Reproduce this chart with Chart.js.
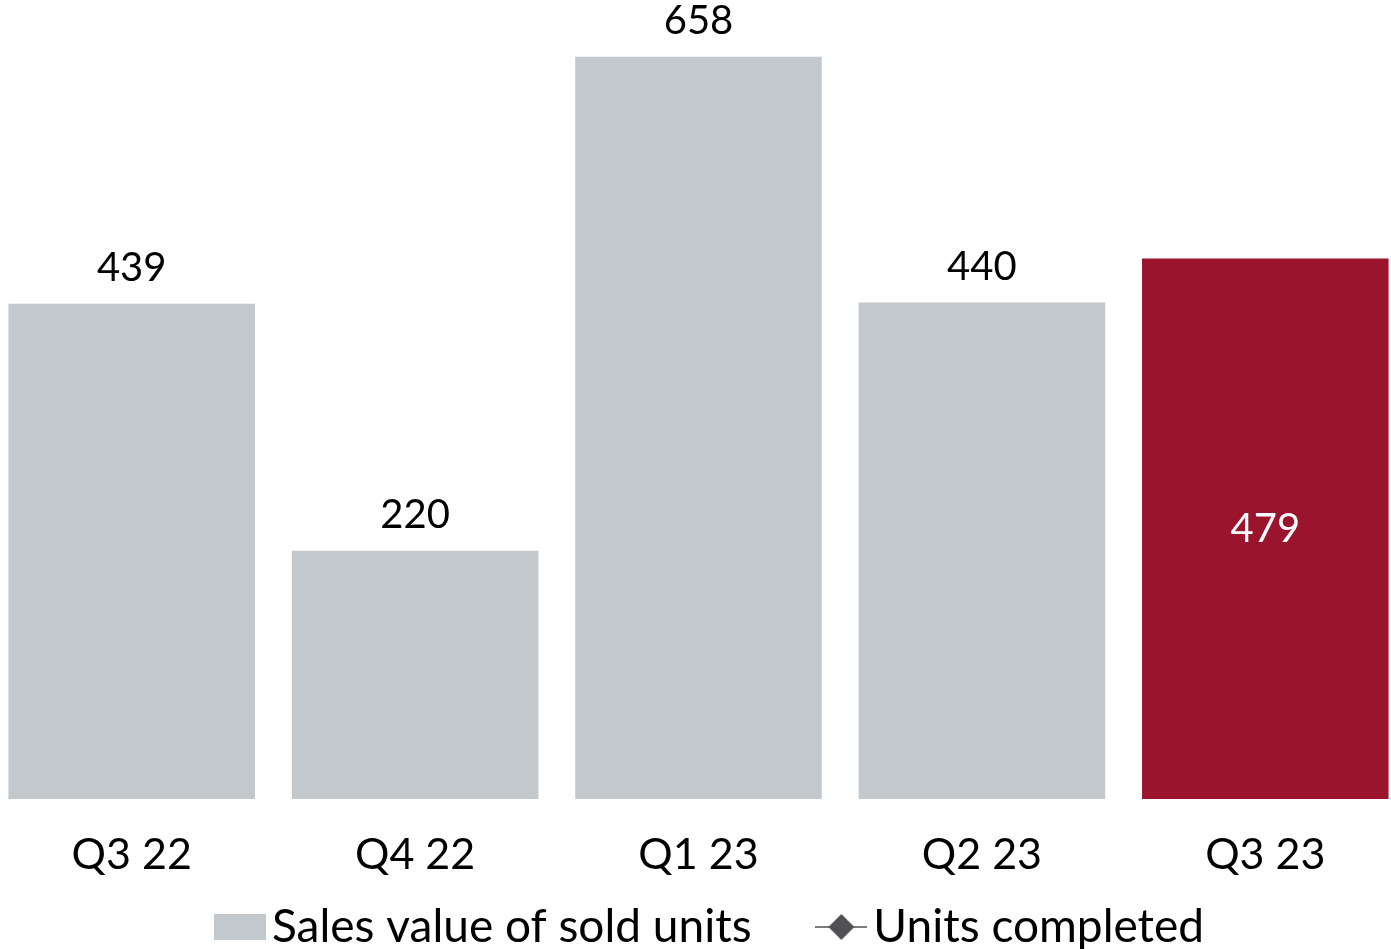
<!DOCTYPE html>
<html>
<head>
<meta charset="utf-8">
<script src="https://cdn.jsdelivr.net/npm/chart.js@4/dist/chart.umd.min.js"></script>
<style>
  html, body { margin: 0; padding: 0; background: #fff; overflow: hidden; }
  #wrap { position: absolute; left: -15px; top: 0; width: 1427px; height: 949px; }
</style>
</head>
<body>
<div id="wrap"><canvas id="chart"></canvas></div>
<script>
// Quarterly sales value (bars); units completed has no points plotted
const quarters = ['Q3 22', 'Q4 22', 'Q1 23', 'Q2 23', 'Q3 23'];
const salesValue = [439, 220, 658, 440, 479];
const unitsCompleted = [null, null, null, null, null];

const GREY = '#c3c8cc';
const RED = '#9b142d';
const FONT = 'Lato, "DejaVu Sans", sans-serif';

const barColors = salesValue.map((v, i) => i === salesValue.length - 1 ? RED : GREY);

// legend swatches as small canvases
function swatchBar() {
  const c = document.createElement('canvas');
  c.width = 52; c.height = 26;
  const g = c.getContext('2d');
  g.fillStyle = GREY;
  g.fillRect(0, 0, 52, 26);
  return c;
}
function swatchLine() {
  const c = document.createElement('canvas');
  c.width = 52; c.height = 28;
  const g = c.getContext('2d');
  g.strokeStyle = '#505055';
  g.lineWidth = 1.5;
  g.beginPath(); g.moveTo(0, 14); g.lineTo(52, 14); g.stroke();
  g.fillStyle = '#505055';
  g.beginPath();
  g.moveTo(26, 1); g.lineTo(39, 14); g.lineTo(26, 27); g.lineTo(13, 14);
  g.closePath(); g.fill();
  return c;
}

const valueLabels = {
  id: 'valueLabels',
  afterDatasetsDraw(chart) {
    const meta = chart.getDatasetMeta(0);
    const ctx = chart.ctx;
    ctx.save();
    ctx.font = '40px ' + FONT;
    ctx.textAlign = 'center';
    ctx.textBaseline = 'middle';
    meta.data.forEach((bar, i) => {
      const v = salesValue[i];
      if (i === salesValue.length - 1) {
        ctx.fillStyle = '#fff';
        ctx.fillText(v, bar.x, (bar.y + bar.base) / 2);
      } else {
        ctx.fillStyle = '#000';
        ctx.fillText(v, bar.x, bar.y - 36);
      }
    });
    ctx.restore();
  }
};

// nudge the legend row a little to the right
const legendShift = {
  id: 'legendShift',
  afterLayout(chart) {
    chart.legend.left += 19;
    chart.legend.right += 19;
  }
};

new Chart(document.getElementById('chart'), {
  data: {
    labels: quarters,
    datasets: [{
      type: 'bar',
      label: 'Sales value of sold units',
      data: salesValue,
      backgroundColor: barColors,
      pointStyle: swatchBar(),
      barPercentage: 0.87,
      categoryPercentage: 1,
      yAxisID: 'y'
    }, {
      type: 'line',
      label: 'Units completed',
      data: unitsCompleted,
      borderColor: '#505055',
      backgroundColor: '#505055',
      pointStyle: swatchLine(),
      yAxisID: 'y1'
    }]
  },
  options: {
    responsive: true,
    maintainAspectRatio: false,
    animation: false,
    layout: { padding: { top: 0, left: 0, right: 0, bottom: -11 } },
    plugins: {
      tooltip: { enabled: false },
      legend: {
        position: 'bottom',
        labels: {
          usePointStyle: true,
          pointStyleWidth: 18,
          padding: 0,
          color: '#000',
          font: { family: FONT, size: 46, lineHeight: 1 },
          generateLabels(chart) {
            const items = Chart.defaults.plugins.legend.labels.generateLabels(chart);
            // spacing between the two entries
            items[0].text += '\u2003\u2003 ';
            return items;
          }
        }
      }
    },
    scales: {
      x: {
        grid: { display: false, drawTicks: false },
        border: { display: false },
        ticks: { color: '#000', font: { family: FONT, size: 43 }, padding: 30 },
        afterFit(scale) { scale.height = 105; }
      },
      y: { display: false, min: 0, max: 703.8 },
      y1: { display: false, min: 0, max: 1 }
    }
  },
  plugins: [valueLabels, legendShift]
});
</script>
</body>
</html>
